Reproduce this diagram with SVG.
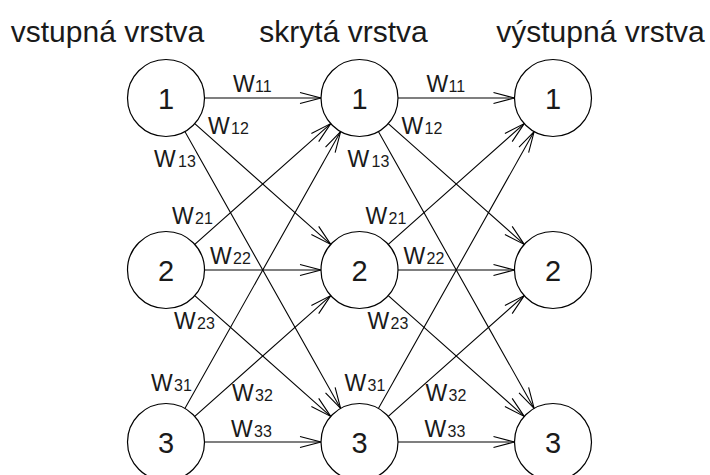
<svg xmlns="http://www.w3.org/2000/svg" width="710" height="475" viewBox="0 0 710 475">
<defs>
<style>
.hdr{font-family:"Liberation Sans",Arial,sans-serif;font-size:30px;fill:#1a1a1a}
.num{font-family:"Liberation Sans",Arial,sans-serif;font-size:29px;fill:#1a1a1a;text-anchor:middle}
.w{font-family:"Liberation Sans",Arial,sans-serif;font-size:23px;fill:#1a1a1a}
.s{font-size:16px}
.node circle{fill:#fff;stroke:#000;stroke-width:1.2}
.edges line{stroke:#000;stroke-width:1.1;marker-end:url(#arr)}
</style>
<marker id="arr" markerUnits="userSpaceOnUse" orient="auto" refX="0" refY="0" viewBox="-23 -7 24 14" markerWidth="24" markerHeight="14" overflow="visible">
<path d="M-21,-5.5 L0,0 L-21,5.5" fill="none" stroke="#000" stroke-width="1.1"/>
</marker>
</defs>
<rect width="710" height="475" fill="#fff"/>
<g id="headers">
<text class="hdr" x="107.5" y="42" text-anchor="middle">vstupná vrstva</text>
<text class="hdr" x="343.5" y="42" text-anchor="middle">skrytá vrstva</text>
<text class="hdr" x="600.5" y="42" text-anchor="middle">výstupná vrstva</text>
</g>
<g id="connectors" class="edges">
<line x1="204.5" y1="98" x2="321" y2="98"/>
<line x1="194.77" y1="123.58" x2="330.73" y2="244.42"/>
<line x1="184.88" y1="131.56" x2="340.62" y2="408.44"/>
<line x1="194.77" y1="244.42" x2="330.73" y2="123.58"/>
<line x1="204.5" y1="270" x2="321" y2="270"/>
<line x1="194.77" y1="295.58" x2="330.73" y2="416.42"/>
<line x1="184.88" y1="408.44" x2="340.62" y2="131.56"/>
<line x1="194.77" y1="416.42" x2="330.73" y2="295.58"/>
<line x1="204.5" y1="442" x2="321" y2="442"/>
<line x1="398" y1="98" x2="514.5" y2="98"/>
<line x1="388.27" y1="123.58" x2="524.23" y2="244.42"/>
<line x1="378.38" y1="131.56" x2="534.12" y2="408.44"/>
<line x1="388.27" y1="244.42" x2="524.23" y2="123.58"/>
<line x1="398" y1="270" x2="514.5" y2="270"/>
<line x1="388.27" y1="295.58" x2="524.23" y2="416.42"/>
<line x1="378.38" y1="408.44" x2="534.12" y2="131.56"/>
<line x1="388.27" y1="416.42" x2="524.23" y2="295.58"/>
<line x1="398" y1="442" x2="514.5" y2="442"/>
</g>
<g id="in1" class="node"><circle cx="166" cy="98" r="38.5"/><text class="num" x="166" y="109">1</text></g>
<g id="in2" class="node"><circle cx="166" cy="270" r="38.5"/><text class="num" x="166" y="281">2</text></g>
<g id="in3" class="node"><circle cx="166" cy="442" r="38.5"/><text class="num" x="166" y="453">3</text></g>
<g id="hid1" class="node"><circle cx="359.5" cy="98" r="38.5"/><text class="num" x="359.5" y="109">1</text></g>
<g id="hid2" class="node"><circle cx="359.5" cy="270" r="38.5"/><text class="num" x="359.5" y="281">2</text></g>
<g id="hid3" class="node"><circle cx="359.5" cy="442" r="38.5"/><text class="num" x="359.5" y="453">3</text></g>
<g id="out1" class="node"><circle cx="553" cy="98" r="38.5"/><text class="num" x="553" y="109">1</text></g>
<g id="out2" class="node"><circle cx="553" cy="270" r="38.5"/><text class="num" x="553" y="281">2</text></g>
<g id="out3" class="node"><circle cx="553" cy="442" r="38.5"/><text class="num" x="553" y="453">3</text></g>
<g id="labels1">
<text class="w" x="233" y="92">W<tspan class="s" x="255">11</tspan></text>
<text class="w" x="208" y="134">W<tspan class="s" x="231">12</tspan></text>
<text class="w" x="154" y="167">W<tspan class="s" x="178">13</tspan></text>
<text class="w" x="172" y="224">W<tspan class="s" x="195">21</tspan></text>
<text class="w" x="210" y="264">W<tspan class="s" x="233">22</tspan></text>
<text class="w" x="174" y="329">W<tspan class="s" x="197">23</tspan></text>
<text class="w" x="151" y="391">W<tspan class="s" x="174">31</tspan></text>
<text class="w" x="232" y="401">W<tspan class="s" x="255">32</tspan></text>
<text class="w" x="231" y="437">W<tspan class="s" x="254">33</tspan></text>
</g>
<g id="labels2">
<text class="w" x="426.5" y="92">W<tspan class="s" x="448.5">11</tspan></text>
<text class="w" x="401.5" y="134">W<tspan class="s" x="424.5">12</tspan></text>
<text class="w" x="347.5" y="167">W<tspan class="s" x="371.5">13</tspan></text>
<text class="w" x="365.5" y="224">W<tspan class="s" x="388.5">21</tspan></text>
<text class="w" x="403.5" y="264">W<tspan class="s" x="426.5">22</tspan></text>
<text class="w" x="367.5" y="329">W<tspan class="s" x="390.5">23</tspan></text>
<text class="w" x="344.5" y="391">W<tspan class="s" x="367.5">31</tspan></text>
<text class="w" x="425.5" y="401">W<tspan class="s" x="448.5">32</tspan></text>
<text class="w" x="424.5" y="437">W<tspan class="s" x="447.5">33</tspan></text>
</g>
</svg>
